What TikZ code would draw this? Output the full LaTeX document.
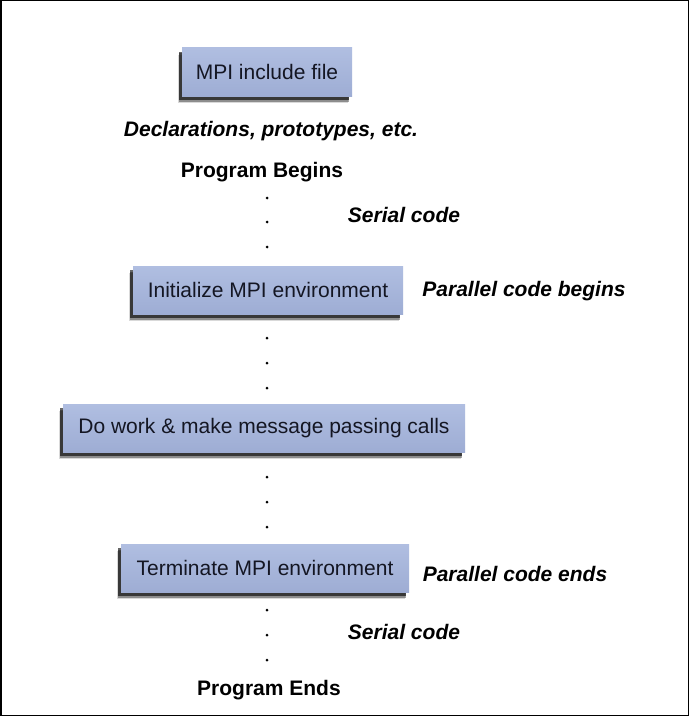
\documentclass[tikz,border=0pt]{standalone}
\usepackage{fontspec}
\setmainfont{Liberation Sans}
\usetikzlibrary{shadows}
\definecolor{boxtop}{RGB}{176,190,225}
\definecolor{boxbot}{RGB}{158,173,212}
\definecolor{boxtext}{RGB}{20,22,35}
\begin{document}
\begin{tikzpicture}[x=1pt,y=-1pt,
  mpibox/.style={draw=none, top color=boxtop, bottom color=boxbot,
    minimum height=48pt, inner sep=0pt, text=boxtext,
    font=\fontsize{21}{25}\selectfont,
    drop shadow={shadow xshift=-4.5pt, shadow yshift=-7pt, fill=black, opacity=0.15},
    drop shadow={shadow xshift=-3.5pt, shadow yshift=-5.5pt, fill=black, opacity=0.35},
    drop shadow={shadow xshift=-3pt, shadow yshift=-4pt, fill=black, opacity=0.6}},
  lbl/.style={inner sep=0pt, font=\fontsize{21}{25}\selectfont\bfseries\itshape},
  hdr/.style={inner sep=0pt, font=\fontsize{21}{25}\selectfont\bfseries},
  dotn/.style={circle, fill=black, inner sep=0pt, minimum size=3pt}]
\useasboundingbox (0,0) rectangle (690,717);
\fill[white] (0,0) rectangle (690,717);
\draw[line width=1.5pt] (0.75,0.75) rectangle (688.5,715.5);

% boxes
\node[mpibox, minimum width=170pt] (b1) at (267,72) {MPI include file};
\node[mpibox, minimum width=270pt] (b2) at (268,290) {Initialize MPI environment};
\node[mpibox, minimum width=402pt] (b3) at (264,428) {Do work \& make message passing calls};
\node[mpibox, minimum width=288pt] (b4) at (265,568) {Terminate MPI environment};

% labels
\node[lbl] (decl) at (271,131) {Declarations, prototypes, etc.};
\node[hdr] (pbeg) at (262,172) {Program Begins};
\node[lbl] (ser1) at (404,215) {Serial code};
\node[lbl] (pcb) at (524,291) {Parallel code begins};
\node[lbl] (pce) at (515,574) {Parallel code ends};
\node[lbl] (ser2) at (404,632) {Serial code};
\node[hdr] (pend) at (269,690) {Program Ends};

% dots
\foreach \y/\n in {198/a1,222/a2,247/a3,338/b1d,363/b2d,388/b3d,477/c1,502/c2,527/c3,610/d1,635/d2,660/d3}
  \node[dotn] (\n) at (267,\y) {};
\end{tikzpicture}
\end{document}
